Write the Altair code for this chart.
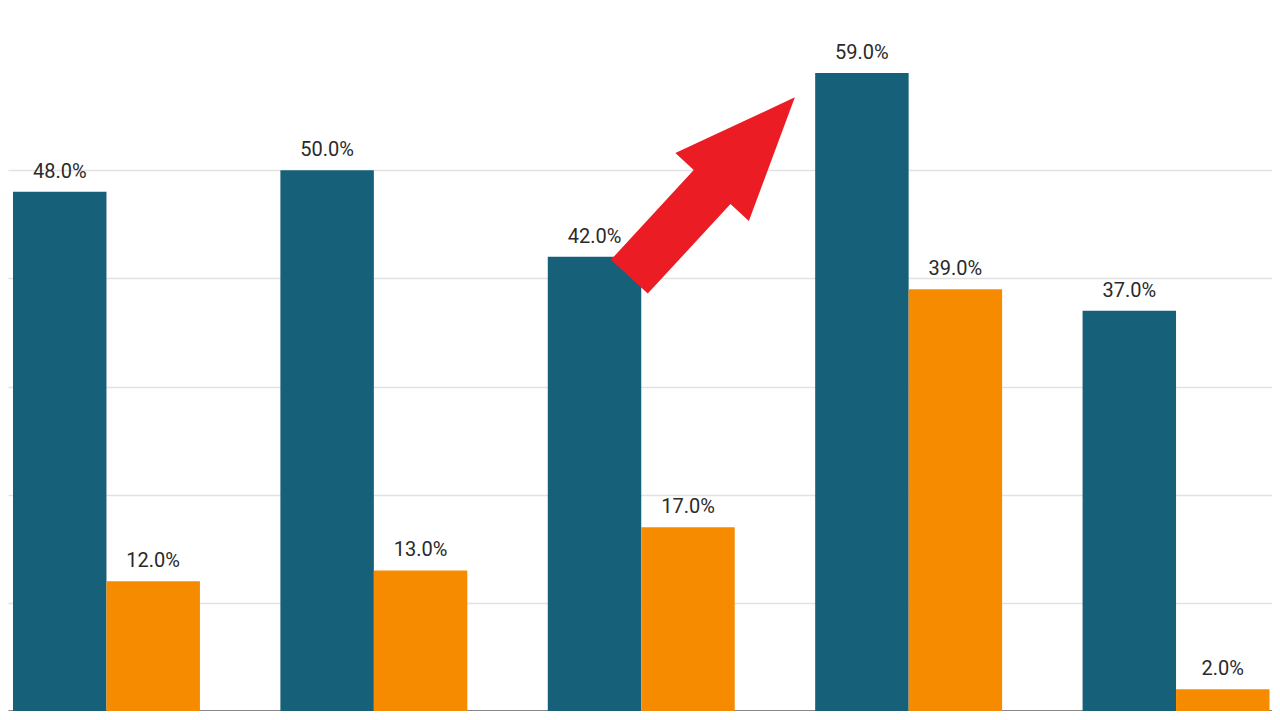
import altair as alt
import pandas as pd

# ---- data ----
groups = ["Group 1", "Group 2", "Group 3", "Group 4", "Group 5"]
series = ["Series A", "Series B"]
series_a = [48, 50, 42, 59, 37]
series_b = [12, 13, 17, 39, 2]
colors = ["#17607a", "#f68b00"]

# annotation arrow, in data units (x: group index, y: percent)
arrow_x = [2.264]
arrow_y = [48.45]
arrow_angle = 42.7

rows = []
for g, a, b in zip(groups, series_a, series_b):
    rows.append({"group": g, "series": series[0], "value": a})
    rows.append({"group": g, "series": series[1], "value": b})
df = pd.DataFrame(rows)
df["label"] = df["value"].map(lambda v: f"{v:.1f}%")

arrow_df = pd.DataFrame({"ax": arrow_x, "ay": arrow_y})

W, H = 1264, 703
yscale = alt.Scale(domain=[0, 65], nice=False, zero=True)
xscale = alt.Scale(paddingInner=0.3009, paddingOuter=0.014, align=0.667)
off_scale = alt.Scale(paddingInner=0, paddingOuter=0)

x_axis = alt.Axis(title=None, labels=False, ticks=False, domain=True,
                  domainColor="#111111", domainWidth=2, grid=False)
y_axis = alt.Axis(title=None, values=[10, 20, 30, 40, 50], labels=False,
                  ticks=False, domain=False, grid=True,
                  gridColor="#e2e2e2", gridWidth=1.5)

base = alt.Chart(df)

bars = base.mark_bar().encode(
    x=alt.X("group:N", sort=groups, scale=xscale, axis=x_axis),
    xOffset=alt.XOffset("series:N", sort=series, scale=off_scale),
    y=alt.Y("value:Q", scale=yscale, axis=y_axis),
    color=alt.Color("series:N", sort=series,
                    scale=alt.Scale(domain=series, range=colors), legend=None),
)

labels = base.mark_text(baseline="alphabetic", dy=-14, fontSize=20,
                        font="Roboto", color="#2a2a2a").encode(
    x=alt.X("group:N", sort=groups, scale=xscale, axis=x_axis),
    xOffset=alt.XOffset("series:N", sort=series, scale=off_scale),
    y=alt.Y("value:Q", scale=yscale, axis=y_axis),
    text="label:N",
)

arrow_path = "M0,-1L0.41,0L0.205,0L0.205,1L-0.205,1L-0.205,0L-0.41,0Z"
arrow = alt.Chart(arrow_df).mark_point(
    shape=arrow_path, size=59536, angle=arrow_angle, filled=True,
    color="#ec1c24", opacity=1, strokeWidth=0,
).encode(
    x=alt.X("ax:Q", scale=alt.Scale(domain=[-0.3682, 4.3570], nice=False, zero=False), axis=None),
    y=alt.Y("ay:Q", scale=yscale, axis=y_axis),
)

chart = alt.layer(alt.layer(bars, labels), arrow).resolve_scale(
    x="independent"
).properties(
    width=W, height=H, padding=0, background="white",
    autosize=alt.AutoSizeParams(type="none"),
).configure_view(stroke="transparent", strokeWidth=0)

chart.save("out.html", embed_options={"renderer": "svg", "actions": False})
